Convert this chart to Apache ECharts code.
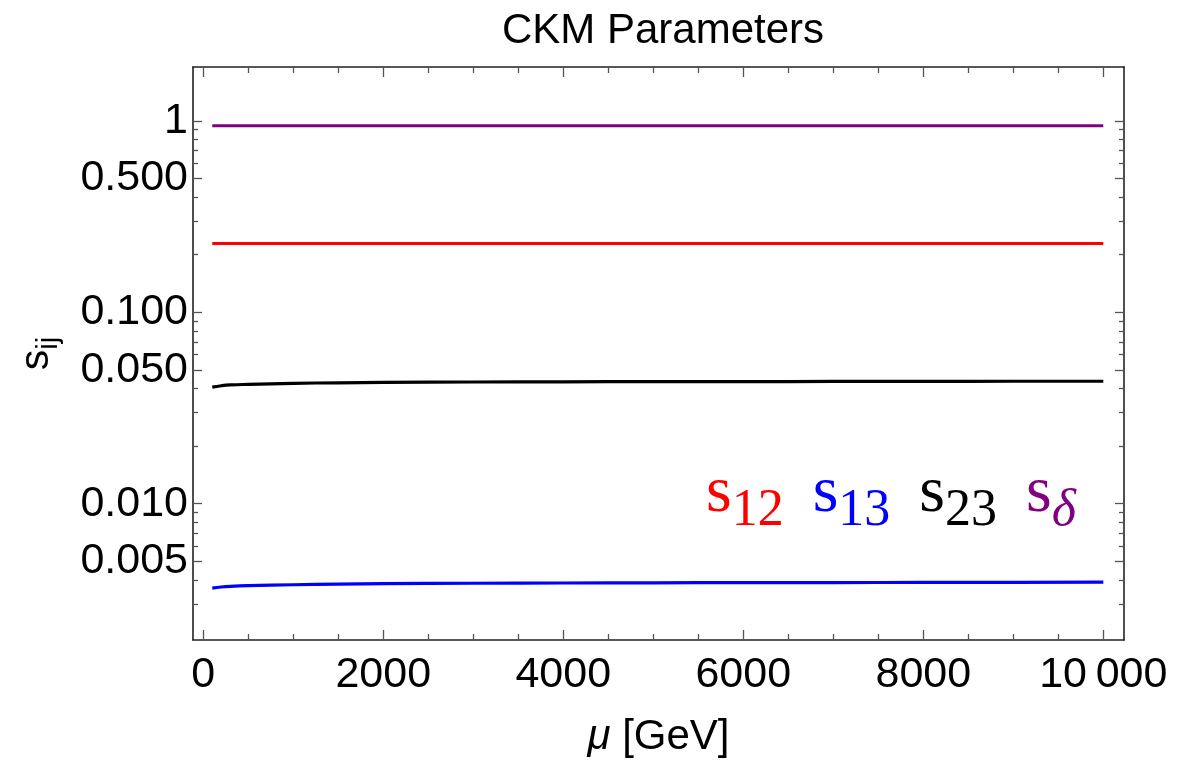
<!DOCTYPE html>
<html>
<head>
<meta charset="utf-8">
<script src="https://cdn.jsdelivr.net/npm/echarts@6/dist/echarts.min.js"></script>
<style>
html,body{margin:0;padding:0;background:#fff;}
#chart{width:1188px;height:763px;}
</style>
</head>
<body>
<div id="chart"></div>
<script>
// ---- data ----
const mu = [100, 200, 300, 500, 1000, 1500, 2000, 3000, 4000, 5000, 6000, 7000, 8000, 9000, 10000];
const s12 = [0.2286, 0.2286, 0.2286, 0.2286, 0.2286, 0.2286, 0.2286, 0.2286, 0.2286, 0.2286, 0.2286, 0.2286, 0.2286, 0.2286, 0.2286];
const s13 = [0.00362, 0.00367, 0.00370, 0.00373, 0.00377, 0.00380, 0.00382, 0.00384, 0.00385, 0.00386, 0.00387, 0.00387, 0.00388, 0.00388, 0.00389];
const s23 = [0.0406, 0.0413, 0.0417, 0.0420, 0.0425, 0.0428, 0.0430, 0.0432, 0.0433, 0.0434, 0.0434, 0.0435, 0.0435, 0.0436, 0.0436];
const sDelta = [0.942, 0.942, 0.942, 0.942, 0.942, 0.942, 0.942, 0.942, 0.942, 0.942, 0.942, 0.942, 0.942, 0.942, 0.942];

const seriesNames = ['s12', 's13', 's23', 'sδ'];
const seriesColors = ['#ff0000', '#0000ff', '#000000', '#800080'];

const xMajorTicks = [0, 2000, 4000, 6000, 8000, 10000];
const xTickLabels = ['0', '2000', '4000', '6000', '8000', '10\u2009000'];
const xMinorTicks = [500, 1000, 1500, 2500, 3000, 3500, 4500, 5000, 5500, 6500, 7000, 7500, 8500, 9000, 9500];

const yMajorTicks = [0.005, 0.01, 0.05, 0.1, 0.5, 1];
const yTickLabels = ['0.005', '0.010', '0.050', '0.100', '0.500', '1'];
const yMinorTicks = [0.003, 0.004, 0.006, 0.007, 0.008, 0.009, 0.02, 0.03, 0.04, 0.06, 0.07, 0.08, 0.09, 0.2, 0.3, 0.4, 0.6, 0.7, 0.8, 0.9];

const xMin = -114, xMax = 10230;
const yMin = 0.00194, yMax = 1.91;

// ---- chart ----
const chart = echarts.init(document.getElementById('chart'), null, {renderer: 'canvas'});
const FONT = '"Liberation Sans", Arial, sans-serif';
const SERIF = '"Liberation Serif", "Times New Roman", serif';
const frameColor = '#222222';
const tickColor = '#555555';
const TICKFONT = 43;

const L = Math.log10;
function pairs(ys){ return mu.map((m, i) => [m, ys[i]]); }

function xAxisDef(pos, ticks, len, showLabel, showLine){
  return {
    type: 'value', position: pos, min: xMin, max: xMax,
    splitLine: {show: false},
    axisLine: {show: showLine, onZero: false, lineStyle: {color: frameColor, width: 1.6}},
    axisTick: {show: true, inside: true, length: len, customValues: ticks, lineStyle: {color: tickColor, width: 1.3}},
    axisLabel: showLabel ? {
      show: true, customValues: xMajorTicks, margin: 14,
      fontFamily: FONT, fontSize: TICKFONT, color: '#000',
      formatter: v => xTickLabels[xMajorTicks.indexOf(v)]
    } : {show: false}
  };
}
function yAxisDef(pos, ticks, len, showLabel){
  return {
    type: 'value', position: pos, min: L(yMin), max: L(yMax),
    splitLine: {show: false},
    axisLine: {show: false, onZero: false},
    axisTick: {show: true, inside: true, length: len, customValues: ticks.map(L), lineStyle: {color: tickColor, width: 1.3}},
    axisLabel: showLabel ? {
      show: true, customValues: yMajorTicks.map(L), margin: 5,
      fontFamily: FONT, fontSize: TICKFONT, color: '#000',
      padding: [4, 0, 0, 0],
      formatter: v => {
        const i = yMajorTicks.findIndex(t => Math.abs(L(t) - v) < 1e-6);
        return i >= 0 ? yTickLabels[i] : '';
      }
    } : {show: false}
  };
}

const legendRich = {
  s: {fontFamily: SERIF, fontSize: 66, verticalAlign: 'bottom', lineHeight: 66, padding: [0, 0, 10, 0]},
  n: {fontFamily: SERIF, fontSize: 52, verticalAlign: 'bottom', lineHeight: 52},
  d: {fontFamily: SERIF, fontSize: 52, fontStyle: 'italic', verticalAlign: 'bottom', lineHeight: 52}
};
const legendText = {'s12': '{s|s}{n|12}', 's13': '{s|s}{n|13}', 's23': '{s|s}{n|23}', 'sδ': '{s|s}{d|δ}'};

const option = {
  backgroundColor: '#ffffff',
  animation: false,
  title: {
    text: 'CKM Parameters', left: 658, top: 5, textAlign: 'center',
    textStyle: {fontFamily: FONT, fontSize: 42, fontWeight: 'normal', color: '#000'}
  },
  legend: {
    left: 696, top: 456, orient: 'horizontal',
    itemWidth: 0, itemHeight: 0, itemGap: 24,
    icon: 'rect',
    selectedMode: false,
    data: seriesNames.map((n, i) => ({name: n, textStyle: {color: seriesColors[i]}})),
    formatter: n => legendText[n],
    textStyle: {rich: legendRich}
  },
  grid: {left: 193, right: 64, top: 67, bottom: 120, containLabel: false},
  xAxis: [
    Object.assign(xAxisDef('bottom', xMajorTicks, 10, true, true), {
      name: '{i|μ} [GeV]', nameLocation: 'middle', nameGap: 76,
      nameTextStyle: {fontFamily: FONT, fontSize: 42, color: '#000', rich: {i: {fontFamily: FONT, fontSize: 42, fontStyle: 'italic', color: '#000'}}}
    }),
    xAxisDef('bottom', xMinorTicks, 6, false, false),
    xAxisDef('top', xMajorTicks, 10, false, true),
    xAxisDef('top', xMinorTicks, 6, false, false)
  ],
  yAxis: [
    {
      type: 'log', position: 'left', min: yMin, max: yMax, logBase: 10,
      splitLine: {show: false}, axisTick: {show: false}, axisLabel: {show: false},
      axisLine: {show: true, onZero: false, lineStyle: {color: frameColor, width: 1.6}},
      name: '{a|s}{b|ij}', nameLocation: 'middle', nameGap: 130, nameRotate: 90,
      nameTextStyle: {rich: {
        a: {fontFamily: FONT, fontSize: 41, color: '#000', verticalAlign: 'bottom', lineHeight: 41, padding: [0, 0, 6, 0]},
        b: {fontFamily: FONT, fontSize: 29, color: '#000', verticalAlign: 'bottom', lineHeight: 29}
      }}
    },
    {
      type: 'log', position: 'right', min: yMin, max: yMax, logBase: 10,
      splitLine: {show: false}, axisTick: {show: false}, axisLabel: {show: false},
      axisLine: {show: true, onZero: false, lineStyle: {color: frameColor, width: 1.6}}
    },
    yAxisDef('left', yMajorTicks, 9, true),
    yAxisDef('left', yMinorTicks, 5, false),
    yAxisDef('right', yMajorTicks, 9, false),
    yAxisDef('right', yMinorTicks, 5, false)
  ],
  series: [
    {name: 's12', type: 'line', data: pairs(s12)},
    {name: 's13', type: 'line', data: pairs(s13)},
    {name: 's23', type: 'line', data: pairs(s23)},
    {name: 'sδ', type: 'line', data: pairs(sDelta)}
  ].map((s, i) => Object.assign(s, {
    xAxisIndex: 0, yAxisIndex: 0, smooth: true, showSymbol: false, symbol: 'none',
    lineStyle: {color: seriesColors[i], width: 3.2}, itemStyle: {color: seriesColors[i]},
    emphasis: {disabled: true}
  }))
};
chart.setOption(option);
</script>
</body>
</html>
